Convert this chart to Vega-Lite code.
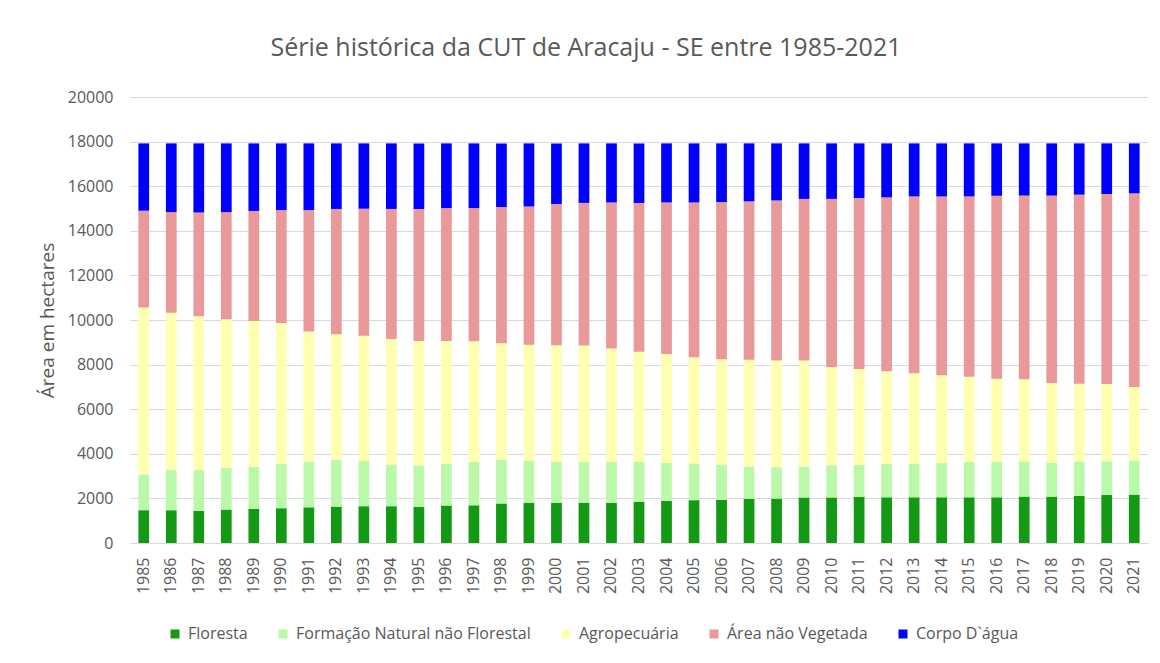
{
  "$schema": "https://vega.github.io/schema/vega-lite/v6.json",
  "width": 1018,
  "height": 446,
  "autosize": {"type": "none"},
  "padding": {"left": 130, "top": 97, "right": 12, "bottom": 120},
  "background": "white",
  "title": {
    "text": "Série histórica da CUT de Aracaju - SE entre 1985-2021",
    "font": "Open Sans",
    "fontSize": 25,
    "fontWeight": "normal",
    "color": "#595959",
    "anchor": "middle",
    "dx": -53,
    "offset": 28
  },
  "data": {
    "values": [
      {"ano": "1985", "Floresta": 1470, "Formação Natural não Florestal": 1600, "Agropecuária": 7490, "Área não Vegetada": 4340, "Corpo D`água": 3020},
      {"ano": "1986", "Floresta": 1470, "Formação Natural não Florestal": 1800, "Agropecuária": 7060, "Área não Vegetada": 4510, "Corpo D`água": 3080},
      {"ano": "1987", "Floresta": 1440, "Formação Natural não Florestal": 1830, "Agropecuária": 6900, "Área não Vegetada": 4650, "Corpo D`água": 3100},
      {"ano": "1988", "Floresta": 1500, "Formação Natural não Florestal": 1870, "Agropecuária": 6660, "Área não Vegetada": 4810, "Corpo D`água": 3080},
      {"ano": "1989", "Floresta": 1530, "Formação Natural não Florestal": 1880, "Agropecuária": 6550, "Área não Vegetada": 4930, "Corpo D`água": 3030},
      {"ano": "1990", "Floresta": 1560, "Formação Natural não Florestal": 1990, "Agropecuária": 6310, "Área não Vegetada": 5070, "Corpo D`água": 2990},
      {"ano": "1991", "Floresta": 1600, "Formação Natural não Florestal": 2030, "Agropecuária": 5850, "Área não Vegetada": 5450, "Corpo D`água": 2990},
      {"ano": "1992", "Floresta": 1630, "Formação Natural não Florestal": 2090, "Agropecuária": 5640, "Área não Vegetada": 5620, "Corpo D`água": 2940},
      {"ano": "1993", "Floresta": 1650, "Formação Natural não Florestal": 2030, "Agropecuária": 5610, "Área não Vegetada": 5700, "Corpo D`água": 2930},
      {"ano": "1994", "Floresta": 1650, "Formação Natural não Florestal": 1870, "Agropecuária": 5630, "Área não Vegetada": 5830, "Corpo D`água": 2940},
      {"ano": "1995", "Floresta": 1620, "Formação Natural não Florestal": 1860, "Agropecuária": 5580, "Área não Vegetada": 5920, "Corpo D`água": 2940},
      {"ano": "1996", "Floresta": 1680, "Formação Natural não Florestal": 1870, "Agropecuária": 5510, "Área não Vegetada": 5960, "Corpo D`água": 2900},
      {"ano": "1997", "Floresta": 1690, "Formação Natural não Florestal": 1940, "Agropecuária": 5420, "Área não Vegetada": 5970, "Corpo D`água": 2900},
      {"ano": "1998", "Floresta": 1770, "Formação Natural não Florestal": 1980, "Agropecuária": 5210, "Área não Vegetada": 6110, "Corpo D`água": 2850},
      {"ano": "1999", "Floresta": 1800, "Formação Natural não Florestal": 1880, "Agropecuária": 5210, "Área não Vegetada": 6200, "Corpo D`água": 2830},
      {"ano": "2000", "Floresta": 1800, "Formação Natural não Florestal": 1830, "Agropecuária": 5240, "Área não Vegetada": 6330, "Corpo D`água": 2720},
      {"ano": "2001", "Floresta": 1800, "Formação Natural não Florestal": 1830, "Agropecuária": 5230, "Área não Vegetada": 6390, "Corpo D`água": 2670},
      {"ano": "2002", "Floresta": 1800, "Formação Natural não Florestal": 1830, "Agropecuária": 5090, "Área não Vegetada": 6550, "Corpo D`água": 2650},
      {"ano": "2003", "Floresta": 1840, "Formação Natural não Florestal": 1800, "Agropecuária": 4940, "Área não Vegetada": 6670, "Corpo D`água": 2670},
      {"ano": "2004", "Floresta": 1890, "Formação Natural não Florestal": 1700, "Agropecuária": 4890, "Área não Vegetada": 6790, "Corpo D`água": 2650},
      {"ano": "2005", "Floresta": 1920, "Formação Natural não Florestal": 1650, "Agropecuária": 4760, "Área não Vegetada": 6940, "Corpo D`água": 2650},
      {"ano": "2006", "Floresta": 1930, "Formação Natural não Florestal": 1570, "Agropecuária": 4740, "Área não Vegetada": 7050, "Corpo D`água": 2630},
      {"ano": "2007", "Floresta": 1980, "Formação Natural não Florestal": 1450, "Agropecuária": 4790, "Área não Vegetada": 7100, "Corpo D`água": 2600},
      {"ano": "2008", "Floresta": 1990, "Formação Natural não Florestal": 1410, "Agropecuária": 4780, "Área não Vegetada": 7180, "Corpo D`água": 2560},
      {"ano": "2009", "Floresta": 2040, "Formação Natural não Florestal": 1390, "Agropecuária": 4750, "Área não Vegetada": 7250, "Corpo D`água": 2490},
      {"ano": "2010", "Floresta": 2040, "Formação Natural não Florestal": 1450, "Agropecuária": 4400, "Área não Vegetada": 7540, "Corpo D`água": 2490},
      {"ano": "2011", "Floresta": 2070, "Formação Natural não Florestal": 1430, "Agropecuária": 4300, "Área não Vegetada": 7670, "Corpo D`água": 2450},
      {"ano": "2012", "Floresta": 2050, "Formação Natural não Florestal": 1500, "Agropecuária": 4150, "Área não Vegetada": 7800, "Corpo D`água": 2420},
      {"ano": "2013", "Floresta": 2050, "Formação Natural não Florestal": 1500, "Agropecuária": 4060, "Área não Vegetada": 7930, "Corpo D`água": 2380},
      {"ano": "2014", "Floresta": 2050, "Formação Natural não Florestal": 1540, "Agropecuária": 3930, "Área não Vegetada": 8020, "Corpo D`água": 2380},
      {"ano": "2015", "Floresta": 2050, "Formação Natural não Florestal": 1580, "Agropecuária": 3830, "Área não Vegetada": 8080, "Corpo D`água": 2380},
      {"ano": "2016", "Floresta": 2050, "Formação Natural não Florestal": 1590, "Agropecuária": 3730, "Área não Vegetada": 8200, "Corpo D`água": 2350},
      {"ano": "2017", "Floresta": 2080, "Formação Natural não Florestal": 1580, "Agropecuária": 3680, "Área não Vegetada": 8240, "Corpo D`água": 2340},
      {"ano": "2018", "Floresta": 2080, "Formação Natural não Florestal": 1530, "Agropecuária": 3560, "Área não Vegetada": 8410, "Corpo D`água": 2340},
      {"ano": "2019", "Floresta": 2110, "Formação Natural não Florestal": 1550, "Agropecuária": 3480, "Área não Vegetada": 8480, "Corpo D`água": 2300},
      {"ano": "2020", "Floresta": 2160, "Formação Natural não Florestal": 1500, "Agropecuária": 3470, "Área não Vegetada": 8520, "Corpo D`água": 2270},
      {"ano": "2021", "Floresta": 2170, "Formação Natural não Florestal": 1510, "Agropecuária": 3310, "Área não Vegetada": 8690, "Corpo D`água": 2240}
    ]
  },
  "transform": [
    {"fold": ["Floresta", "Formação Natural não Florestal", "Agropecuária", "Área não Vegetada", "Corpo D`água"], "as": ["classe", "area"]},
    {"calculate": "indexof(['Floresta', 'Formação Natural não Florestal', 'Agropecuária', 'Área não Vegetada', 'Corpo D`água'], datum.classe)", "as": "ordem"}
  ],
  "mark": {"type": "bar"},
  "encoding": {
    "x": {
      "field": "ano",
      "type": "ordinal",
      "scale": {"paddingInner": 0.61},
      "axis": {
        "title": null,
        "labelAngle": -90,
        "labelFont": "Open Sans",
        "labelFontSize": 16,
        "labelColor": "#595959",
        "labelPadding": 14,
        "ticks": false,
        "domain": true,
        "domainColor": "#d9d9d9",
        "domainWidth": 1
      }
    },
    "y": {
      "field": "area",
      "type": "quantitative",
      "stack": "zero",
      "scale": {"domain": [0, 20000], "nice": false},
      "axis": {
        "values": [0, 2000, 4000, 6000, 8000, 10000, 12000, 14000, 16000, 18000, 20000],
        "format": "d",
        "title": "Área em hectares",
        "titleFont": "Open Sans",
        "titleFontSize": 19,
        "titleFontWeight": "normal",
        "titleColor": "#595959",
        "titlePadding": 10,
        "labelFont": "Open Sans",
        "labelFontSize": 16,
        "labelColor": "#595959",
        "labelPadding": 17,
        "ticks": false,
        "domain": false,
        "grid": true,
        "gridColor": "#d9d9d9",
        "gridWidth": 1
      }
    },
    "order": {"field": "ordem", "type": "quantitative", "sort": "ascending"},
    "color": {
      "field": "classe",
      "type": "nominal",
      "sort": ["Floresta", "Formação Natural não Florestal", "Agropecuária", "Área não Vegetada", "Corpo D`água"],
      "scale": {
        "domain": ["Floresta", "Formação Natural não Florestal", "Agropecuária", "Área não Vegetada", "Corpo D`água"],
        "range": ["#139913", "#bbf9aa", "#ffffb0", "#e99999", "#0000ff"]
      },
      "legend": {
        "title": null,
        "orient": "none",
        "direction": "horizontal",
        "legendX": 37,
        "legendY": 529,
        "symbolType": "square",
        "symbolSize": 81,
        "symbolStrokeWidth": 0,
        "labelFont": "Open Sans",
        "labelFontSize": 16,
        "labelColor": "#595959",
        "labelOffset": 5,
        "columnPadding": 27,
        "labelLimit": 400
      }
    }
  },
  "config": {
    "view": {"stroke": null}
  }
}
